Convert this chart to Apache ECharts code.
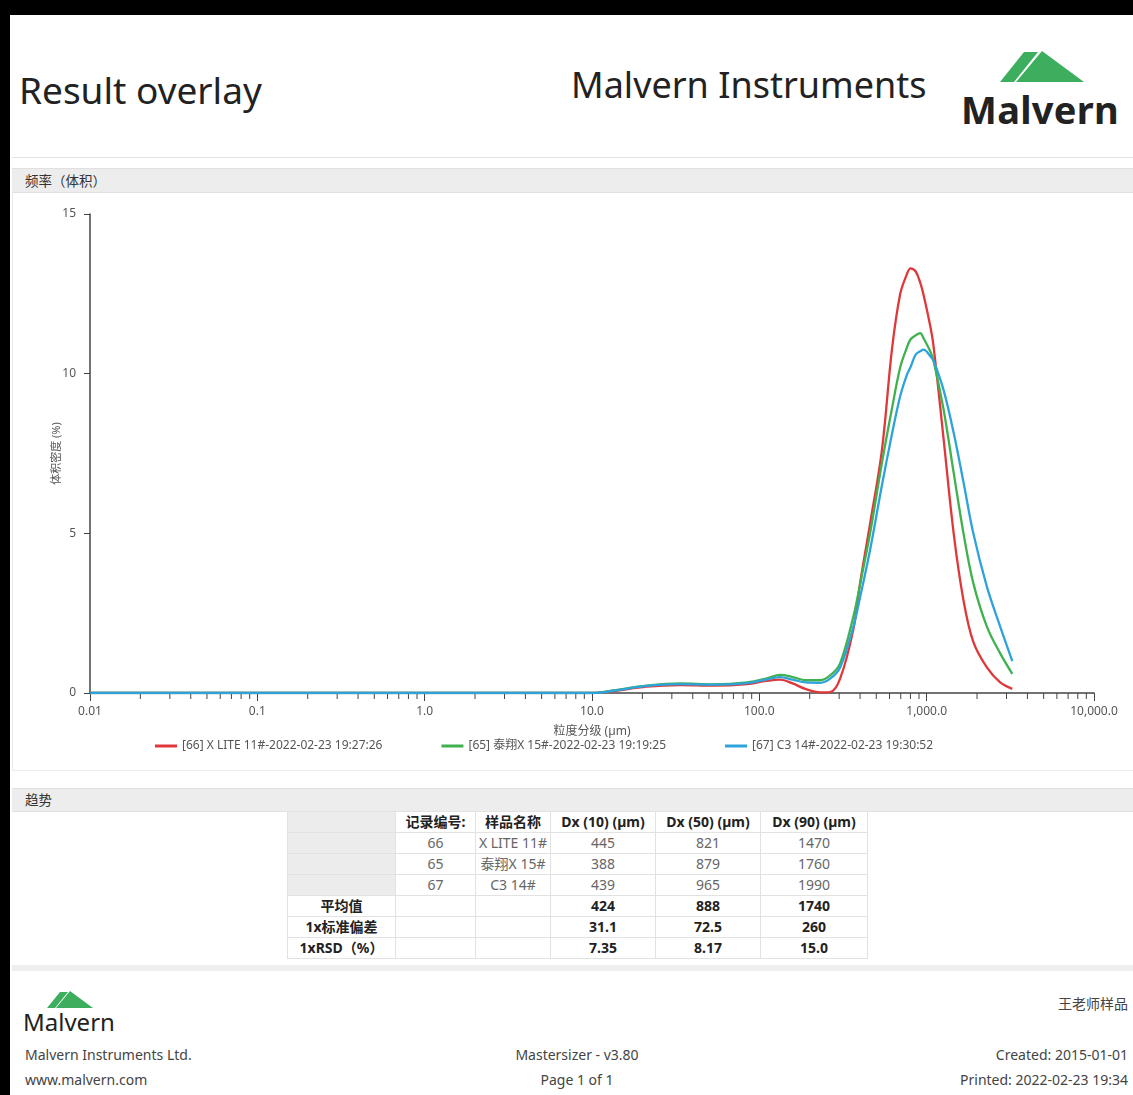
<!DOCTYPE html>
<html>
<head>
<meta charset="utf-8">
<script src="https://cdn.jsdelivr.net/npm/echarts@6/dist/echarts.min.js"></script>
<style>
  html, body { margin: 0; padding: 0; }
  body { width: 1133px; height: 1095px; background: #000; overflow: hidden;
         font-family: "Noto Sans", "Noto Sans CJK SC", sans-serif; }
  .page { position: absolute; left: 10px; top: 15px; width: 1123px; height: 1080px; background: #fff; }
  .abs { position: absolute; white-space: nowrap; }
  .bar { position: absolute; left: 2px; width: 1121px; background: #ededed;
         border-top: 1px solid #e0e0e0; border-bottom: 1px solid #e0e0e0;
         font-size: 13.5px; color: #333; box-sizing: border-box; padding-left: 13px; }
  .ft { position: absolute; white-space: nowrap; font-size: 14px; color: #444; }
  table { border-collapse: collapse; font-size: 14px; color: #666; }
  td { border: 1px solid #e2e2e2; height: 20px; padding: 0; text-align: center; line-height: 18px; }
  tr.hd td { color: #222; font-weight: bold; }
  tr.st td { color: #222; font-weight: bold; }
  td.g { background: #ececec; }
</style>
</head>
<body>
<div class="page">
  <div class="abs" style="left:9px;top:49px;font-size:37px;color:#222;">Result overlay</div>
  <div class="abs" style="left:561px;top:45px;font-size:36px;color:#222;">Malvern Instruments</div>
  <svg class="abs" style="left:988px;top:36px;" width="90" height="32">
    <polygon points="2,31 26,1 40,1 16,31" fill="#3dae5e"/>
    <polygon points="18,31 44,0 86,31" fill="#3dae5e"/>
  </svg>
  <div class="abs" style="left:951px;top:68px;font-size:38px;font-weight:bold;color:#222;letter-spacing:0.3px;">Malvern</div>
  <div class="abs" style="left:2px;top:142px;width:1121px;height:1px;background:#e3e3e3;"></div>

  <div class="bar" style="top:153px;height:25px;line-height:24px;">频率（体积）</div>
  <div class="abs" style="left:2px;top:178px;width:1120px;height:577px;border:1px solid #ececec;border-top:none;"></div>
  <div id="chart" class="abs" style="left:2px;top:180px;width:1121px;height:575px;"></div>

  <div class="bar" style="top:773px;height:24px;line-height:23px;">趋势</div>
  <div id="tbl" class="abs" style="left:277px;top:796px;"></div>

  <div class="abs" style="left:2px;top:950px;width:1121px;height:6px;background:#eeeeee;"></div>

  <svg class="abs" style="left:36px;top:976px;" width="52" height="18">
    <polygon points="1,17 14,1 22,1 9,17" fill="#3dae5e"/>
    <polygon points="10,17 24,0 47,17" fill="#3dae5e"/>
  </svg>
  <div class="abs" style="left:13px;top:990px;font-size:24px;color:#222;">Malvern</div>
  <div class="ft" style="left:15px;top:1030px;">Malvern Instruments Ltd.</div>
  <div class="ft" style="left:15px;top:1055px;">www.malvern.com</div>
  <div class="ft" style="left:467px;top:1030px;width:200px;text-align:center;">Mastersizer - v3.80</div>
  <div class="ft" style="left:467px;top:1055px;width:200px;text-align:center;">Page 1 of 1</div>
  <div class="ft" style="right:5px;top:978px;">王老师样品</div>
  <div class="ft" style="right:5px;top:1030px;">Created: 2015-01-01</div>
  <div class="ft" style="right:5px;top:1055px;">Printed: 2022-02-23 19:34</div>
</div>

<script>
// particle size classes (µm)
const sizes = [0.01, 10, 13.4, 21.2, 33.7, 53, 84.6, 110, 133, 158, 190, 231, 265, 304, 365, 400,
  459, 540, 620, 695, 760, 800, 860, 915, 960, 1050, 1100, 1260, 1450, 1660, 1900, 2290, 2750, 3250];

const red = [0, 0, 0.06, 0.2, 0.25, 0.23, 0.28, 0.38, 0.42, 0.3, 0.12, 0.02, 0.03, 0.45, 2.0, 3.44,
  5.3, 7.6, 10.75, 12.5, 13.1, 13.3, 13.2, 12.85, 12.45, 11.5, 10.85, 8.0, 5.0, 2.9, 1.6, 0.8, 0.33, 0.13];
const green = [0, 0, 0.08, 0.23, 0.3, 0.27, 0.33, 0.45, 0.57, 0.5, 0.4, 0.4, 0.55, 0.93, 2.4, 3.4,
  5.0, 7.2, 8.9, 10.2, 10.8, 11.07, 11.2, 11.27, 11.1, 10.7, 10.4, 8.9, 6.9, 5.0, 3.44, 2.08, 1.24, 0.6];
const blue = [0, 0, 0.07, 0.22, 0.28, 0.26, 0.31, 0.42, 0.5, 0.42, 0.33, 0.32, 0.45, 0.8, 2.08, 3.0,
  4.48, 6.5, 8.1, 9.3, 9.95, 10.2, 10.6, 10.7, 10.75, 10.55, 10.4, 9.5, 8.15, 6.6, 5.0, 3.33, 2.08, 1.0];

const seriesNames = [
  '[66] X LITE 11#-2022-02-23 19:27:26',
  '[65] 泰翔X 15#-2022-02-23 19:19:25',
  '[67] C3 14#-2022-02-23 19:30:52'
];
const xTickLabels = ['0.01', '0.1', '1.0', '10.0', '100.0', '1,000.0', '10,000.0'];
const yTickLabels = ['0', '5', '10', '15'];

// table
const tableHead = ['', '记录编号:', '样品名称', 'Dx (10) (µm)', 'Dx (50) (µm)', 'Dx (90) (µm)'];
const recordIds = ['66', '65', '67'];
const sampleNames = ['X LITE 11#', '泰翔X 15#', 'C3 14#'];
const dx10 = ['445', '388', '439'];
const dx50 = ['821', '879', '965'];
const dx90 = ['1470', '1760', '1990'];
const statLabels = ['平均值', '1x标准偏差', '1xRSD（%）'];
const statDx10 = ['424', '31.1', '7.35'];
const statDx50 = ['888', '72.5', '8.17'];
const statDx90 = ['1740', '260', '15.0'];

const colors = ['#e0383a', '#3fb24f', '#2ea3db'];
const font = '"Noto Sans", "Noto Sans CJK SC", sans-serif';

(function buildTable() {
  const w = [107, 79, 74, 104, 104, 106];
  let h = '<table><tr class="hd">';
  tableHead.forEach((t, i) => { h += `<td class="${i === 0 ? 'g' : ''}" style="width:${w[i]}px">${t}</td>`; });
  h += '</tr>';
  recordIds.forEach((id, i) => {
    h += `<tr><td class="g"></td><td>${id}</td><td>${sampleNames[i]}</td><td>${dx10[i]}</td><td>${dx50[i]}</td><td>${dx90[i]}</td></tr>`;
  });
  statLabels.forEach((s, i) => {
    h += `<tr class="st"><td>${s}</td><td></td><td></td><td>${statDx10[i]}</td><td>${statDx50[i]}</td><td>${statDx90[i]}</td></tr>`;
  });
  h += '</table>';
  document.getElementById('tbl').innerHTML = h;
})();

// minor tick positions on the log axis (2..9 in every decade)
const minorTicks = [];
for (let e = -2; e < 4; e++) {
  for (let m = 2; m <= 9; m++) minorTicks.push([m * Math.pow(10, e), 0]);
}

const toPairs = arr => sizes.map((s, i) => [s, arr[i]]);

const chart = echarts.init(document.getElementById('chart'));
chart.setOption({
  animation: false,
  textStyle: { fontFamily: font },
  grid: { left: 78, right: 39, top: 19, bottom: 77 },
  legend: {
    bottom: 13,
    left: 138,
    itemGap: 59,
    itemWidth: 22,
    itemHeight: 3,
    icon: 'rect',
    textStyle: { fontSize: 12, color: '#555', fontFamily: font },
    data: seriesNames
  },
  xAxis: {
    type: 'log',
    logBase: 10,
    min: 0.01,
    max: 10000,
    name: '粒度分级 (µm)',
    nameLocation: 'middle',
    nameGap: 33,
    nameMoveOverlap: false,
    nameTextStyle: { fontSize: 12, color: '#555' },
    axisLine: { lineStyle: { color: '#444', width: 1.5 } },
    axisTick: { show: true, length: 8, lineStyle: { color: '#444' } },
    axisLabel: {
      margin: 13, fontSize: 12, color: '#555',
      formatter: (v, i) => xTickLabels[i]
    },
    splitLine: { show: false }
  },
  yAxis: {
    type: 'value',
    min: 0,
    max: 15,
    interval: 5,
    name: '体积密度 (%)',
    nameLocation: 'middle',
    nameGap: 28,
    nameMoveOverlap: false,
    nameTextStyle: { fontSize: 11, color: '#555' },
    axisLine: { show: true, lineStyle: { color: '#444', width: 1.5 } },
    axisTick: { show: true, length: 6, lineStyle: { color: '#444' } },
    axisLabel: { margin: 14, fontSize: 12, color: '#555', formatter: (v, i) => yTickLabels[i] },
    splitLine: { show: false }
  },
  series: [
    {
      type: 'custom',
      silent: true,
      clip: false,
      renderItem: (params, api) => {
        const p = api.coord([api.value(0), 0]);
        return {
          type: 'line',
          shape: { x1: p[0], y1: p[1], x2: p[0], y2: p[1] + 6 },
          style: { stroke: '#444', lineWidth: 1 }
        };
      },
      data: minorTicks,
      z: 1
    },
    ...[red, green, blue].map((arr, i) => ({
      name: seriesNames[i],
      type: 'line',
      data: toPairs(arr),
      smooth: 0.35,
      showSymbol: false,
      symbol: 'none',
      lineStyle: { color: colors[i], width: 2.3 },
      itemStyle: { color: colors[i] },
      z: 3
    }))
  ]
});
</script>
</body>
</html>
